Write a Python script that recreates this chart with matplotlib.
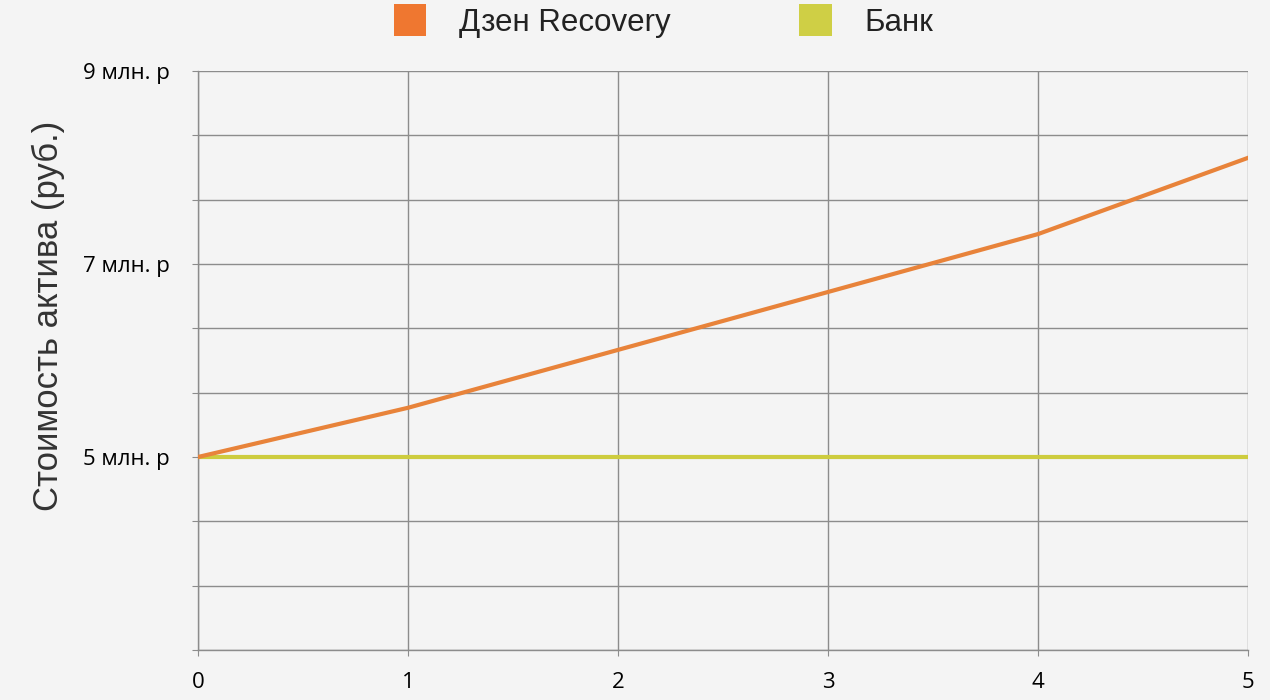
import matplotlib
matplotlib.use('Agg')
import matplotlib.pyplot as plt
from matplotlib.patches import Patch
import numpy as np

# Data (values in millions of rubles)
years = [0, 1, 2, 3, 4, 5]
zen_recovery = [5.0, 5.51, 6.11, 6.71, 7.31, 8.10]
bank = [5.0, 5.0, 5.0, 5.0, 5.0, 5.0]
series_names = ['Дзен Recovery', 'Банк']
ytick_vals = [5, 7, 9]
ytick_labels = ['5 млн. р', '7 млн. р', '9 млн. р']

bg = '#f4f4f4'
orange = '#e8833a'
yellow = '#cdcc3e'

plt.rcParams['font.family'] = ['Liberation Sans', 'DejaVu Sans']

fig = plt.figure(figsize=(12.7, 7.0), dpi=100, facecolor=bg)
ax = fig.add_axes([198 / 1270, 50 / 700, 1050 / 1270, 579 / 700])
ax.set_facecolor(bg)

ax.plot(years, bank, color=yellow, lw=3, zorder=3)
ax.plot(years, zen_recovery, color=orange, lw=3, zorder=4)

ax.set_xlim(0, 5)
ax.set_ylim(3, 9)
ax.set_xticks(years)
# gridlines every 2/3 million, labels only on 5, 7, 9
grid_y = np.linspace(3, 9, 10)
labels = []
for v in grid_y:
    r = int(round(v))
    labels.append(ytick_labels[ytick_vals.index(r)] if abs(v - r) < 1e-6 and r in ytick_vals else '')
ax.set_yticks(grid_y)
ax.set_yticklabels(labels)

ax.grid(True, color='#8c8c8c', lw=1)
ax.set_axisbelow(True)
for s in ['top', 'right']:
    ax.spines[s].set_visible(False)
for s in ['left', 'bottom']:
    ax.spines[s].set_color('#8c8c8c')
    ax.spines[s].set_linewidth(1)

ax.tick_params(axis='both', colors='#8c8c8c', length=4, labelcolor='black', labelsize=16)
ax.tick_params(axis='x', pad=12)
ax.tick_params(axis='y', pad=16)
for t in ax.get_xticklabels() + ax.get_yticklabels():
    t.set_fontfamily(['Open Sans', 'DejaVu Sans'])

ax.set_ylabel('Стоимость актива (руб.)', fontsize=25, color='#333333')
ax.yaxis.set_label_coords(-0.127, 0.577)

handles = [Patch(facecolor='#ef7730', edgecolor='none'), Patch(facecolor='#cfcf45', edgecolor='none')]
leg = fig.legend(handles, series_names, loc='center', bbox_to_anchor=(663.5 / 1270, 1 - 21 / 700), ncol=2,
                 frameon=False, fontsize=22.5, handlelength=1.05, handleheight=1.2,
                 handletextpad=1.05, columnspacing=4.1, borderpad=0)
for t in leg.get_texts():
    t.set_color('#222222')

fig.savefig('out.png', dpi=100, facecolor=bg)
